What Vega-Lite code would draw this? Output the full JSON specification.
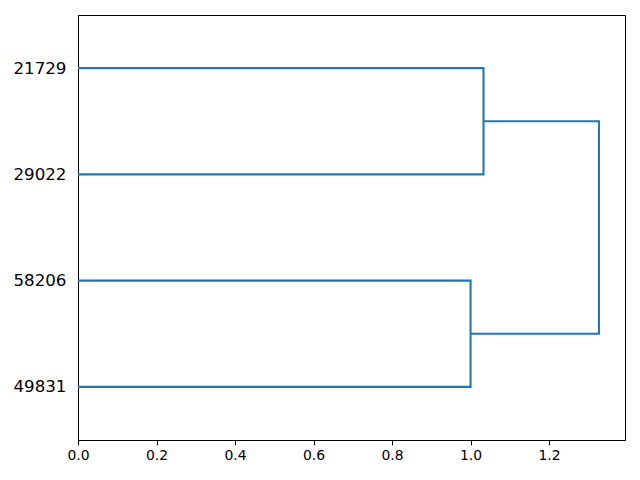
{
  "$schema": "https://vega.github.io/schema/vega-lite/v6.json",
  "width": 547,
  "height": 425,
  "autosize": "none",
  "padding": {"left": 78, "top": 15, "right": 15, "bottom": 40},
  "background": "white",
  "config": {
    "font": "DejaVu Sans",
    "view": {"stroke": "black", "strokeWidth": 1},
    "axis": {"grid": false, "domainColor": "black", "domainWidth": 1, "tickColor": "black", "labelColor": "black", "title": null, "labelFont": "DejaVu Sans"}
  },
  "data": {
    "values": [
      {"link": "A", "ord": 1, "x": 0, "y": 35},
      {"link": "A", "ord": 2, "x": 1.033, "y": 35},
      {"link": "A", "ord": 3, "x": 1.033, "y": 25},
      {"link": "A", "ord": 4, "x": 0, "y": 25},
      {"link": "B", "ord": 1, "x": 0, "y": 15},
      {"link": "B", "ord": 2, "x": 1.0, "y": 15},
      {"link": "B", "ord": 3, "x": 1.0, "y": 5},
      {"link": "B", "ord": 4, "x": 0, "y": 5},
      {"link": "C", "ord": 1, "x": 1.033, "y": 30},
      {"link": "C", "ord": 2, "x": 1.327, "y": 30},
      {"link": "C", "ord": 3, "x": 1.327, "y": 10},
      {"link": "C", "ord": 4, "x": 1.0, "y": 10}
    ]
  },
  "mark": {"type": "line", "color": "#1f77b4", "strokeWidth": 2.08, "strokeJoin": "miter", "strokeCap": "butt"},
  "encoding": {
    "x": {
      "field": "x", "type": "quantitative",
      "scale": {"domain": [0, 1.3934], "nice": false, "zero": false},
      "axis": {"values": [0, 0.2, 0.4, 0.6, 0.8, 1.0, 1.2], "format": ".1f", "tickSize": 4.9, "labelPadding": 4, "labelFontSize": 13.9, "labelFlush": false}
    },
    "y": {
      "field": "y", "type": "quantitative",
      "scale": {"domain": [0, 40], "nice": false, "zero": false},
      "axis": {
        "values": [5, 15, 25, 35],
        "labelExpr": "datum.value == 35 ? '21729' : datum.value == 25 ? '29022' : datum.value == 15 ? '58206' : '49831'",
        "ticks": false, "labelPadding": 12, "labelFontSize": 16.7, "labelFlush": false
      }
    },
    "detail": {"field": "link"},
    "order": {"field": "ord", "type": "quantitative"}
  }
}
